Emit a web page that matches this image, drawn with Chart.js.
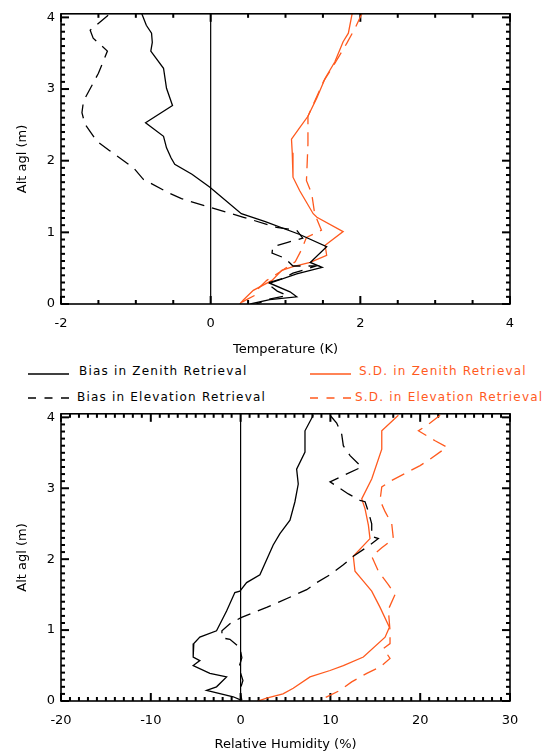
<!DOCTYPE html>
<html lang="en">
<head>
  <meta charset="UTF-8">
  <title>Bias and S.D. profiles</title>
  <style>
    body { margin: 0; background: #fff; }
    #page { position: relative; width: 551px; height: 755px; font-family: 'DejaVu Sans', sans-serif; }
    canvas { position: absolute; left: 0; }
    #tempChart { top: 0; }
    #rhChart { top: 400px; }
    .key { position: absolute; font-size: 12px; letter-spacing: 1.2px; line-height: 14px; white-space: nowrap; color: #000; }
    .key.sd { color: #ff5a1e; }
    .swatch { position: absolute; }
  </style>
</head>
<body>
<div id="page">
  <canvas id="tempChart" width="551" height="360"></canvas>

  <svg class="swatch" style="left:28px;top:372px" width="41" height="4"><line x1="0" y1="2" x2="41" y2="2" stroke="#000" stroke-width="1.5"/></svg>
  <div class="key" style="left:79px;top:364px">Bias in Zenith Retrieval</div>
  <svg class="swatch" style="left:310px;top:372px" width="41" height="4"><line x1="0" y1="2" x2="41" y2="2" stroke="#ff5a1e" stroke-width="1.5"/></svg>
  <div class="key sd" style="left:359px;top:364px">S.D. in Zenith Retrieval</div>
  <svg class="swatch" style="left:28px;top:396px" width="41" height="4"><line x1="0" y1="2" x2="41" y2="2" stroke="#000" stroke-width="1.5" stroke-dasharray="8 8.5"/></svg>
  <div class="key" style="left:77px;top:390px">Bias in Elevation Retrieval</div>
  <svg class="swatch" style="left:310px;top:396px" width="41" height="4"><line x1="0" y1="2" x2="41" y2="2" stroke="#ff5a1e" stroke-width="1.5" stroke-dasharray="8 8.5"/></svg>
  <div class="key sd" style="left:355px;top:390px">S.D. in Elevation Retrieval</div>

  <canvas id="rhChart" width="551" height="355"></canvas>
</div>
<script src="https://cdn.jsdelivr.net/npm/chart.js"></script>
<script>
// Temperature profiles (K) against altitude
const altTBiasZen = [4.05, 3.89, 3.78, 3.65, 3.53, 3.29, 3.01, 2.77, 2.53, 2.34, 2.18, 2.04, 1.95, 1.81, 1.63, 1.26, 1.15, 0.97, 0.80, 0.58, 0.51, 0.42, 0.29, 0.17, 0.10, 0.06, 0.00];
const tBiasZen    = [-0.92, -0.86, -0.79, -0.78, -0.80, -0.63, -0.59, -0.51, -0.87, -0.63, -0.59, -0.53, -0.48, -0.25, -0.01, 0.41, 0.73, 1.19, 1.55, 1.33, 1.49, 1.15, 0.79, 1.06, 1.15, 0.79, 0.53];

const altTBiasElv = [4.03, 3.82, 3.71, 3.53, 3.22, 2.83, 2.67, 2.51, 2.27, 2.14, 1.90, 1.74, 1.54, 1.47, 1.35, 1.21, 1.07, 1.03, 0.92, 0.86, 0.80, 0.71, 0.64, 0.53, 0.53, 0.43, 0.36, 0.29, 0.18, 0.12, 0.06, 0.00];
const tBiasElv    = [-1.37, -1.61, -1.57, -1.38, -1.50, -1.70, -1.72, -1.68, -1.52, -1.35, -1.03, -0.90, -0.54, -0.39, -0.01, 0.44, 0.88, 1.15, 1.23, 1.03, 0.83, 0.82, 0.99, 1.10, 1.41, 1.10, 0.97, 0.75, 0.89, 1.02, 0.75, 0.61];

const altTSdZen = [4.05, 3.78, 3.66, 3.38, 3.15, 2.88, 2.62, 2.46, 2.30, 2.11, 1.77, 1.58, 1.26, 1.21, 1.01, 0.82, 0.68, 0.58, 0.52, 0.47, 0.33, 0.19, 0.06, 0.00];
const tSdZen    = [1.89, 1.84, 1.77, 1.66, 1.53, 1.42, 1.30, 1.19, 1.08, 1.09, 1.10, 1.19, 1.37, 1.42, 1.77, 1.53, 1.55, 1.33, 1.10, 0.95, 0.82, 0.57, 0.44, 0.39];

const altTSdElv = [4.05, 3.85, 3.64, 3.29, 3.11, 2.83, 2.62, 2.23, 1.72, 1.54, 1.26, 1.03, 0.93, 0.77, 0.59, 0.45, 0.33, 0.19, 0.12, 0.06, 0.01];
const tSdElv    = [2.02, 1.93, 1.82, 1.62, 1.51, 1.39, 1.30, 1.30, 1.28, 1.35, 1.39, 1.48, 1.28, 1.22, 1.13, 0.93, 0.75, 0.61, 0.59, 0.48, 0.39];

// Relative humidity profiles (%) against altitude
const altRBiasZen = [4.03, 3.81, 3.51, 3.27, 3.06, 2.81, 2.55, 2.36, 2.20, 1.78, 1.67, 1.55, 1.53, 1.27, 0.99, 0.90, 0.81, 0.62, 0.57, 0.50, 0.39, 0.34, 0.20, 0.15, 0.06, 0.01];
const rBiasZen    = [8.09, 7.17, 7.17, 6.24, 6.42, 6.05, 5.50, 4.38, 3.63, 2.15, 0.67, -0.08, -0.64, -1.56, -2.68, -4.54, -5.21, -5.28, -4.54, -5.28, -3.42, -1.56, -2.68, -3.79, -0.82, 0.11];

const altRBiasElv = [4.03, 3.92, 3.76, 3.60, 3.46, 3.30, 3.19, 3.09, 2.92, 2.83, 2.81, 2.67, 2.50, 2.32, 2.29, 2.20, 2.04, 1.92, 1.78, 1.67, 1.57, 1.39, 1.32, 1.18, 1.09, 0.99, 0.89, 0.87, 0.75, 0.61, 0.47, 0.29, 0.15, 0.01];
const rBiasElv    = [9.96, 10.70, 11.26, 11.44, 12.19, 13.49, 11.63, 9.96, 12.00, 13.30, 13.86, 14.23, 14.60, 14.60, 15.34, 14.41, 12.55, 11.44, 9.96, 8.47, 7.36, 4.19, 2.90, 0.11, -1.19, -2.08, -2.08, -1.19, -0.08, 0.14, -0.19, 0.26, -0.08, 0.14];

const altRSdZen = [4.03, 3.81, 3.55, 3.13, 2.85, 2.71, 2.48, 2.29, 2.04, 1.83, 1.69, 1.55, 1.32, 1.04, 0.90, 0.62, 0.50, 0.43, 0.34, 0.18, 0.10, 0.04, 0.00];
const rSdZen    = [17.57, 15.72, 15.72, 14.60, 13.49, 13.86, 14.23, 14.41, 12.55, 12.74, 13.67, 14.60, 15.53, 16.57, 16.09, 13.67, 11.44, 9.96, 7.73, 5.86, 4.72, 2.90, 1.93];

const altRSdElv = [4.03, 3.92, 3.81, 3.67, 3.58, 3.41, 3.32, 3.11, 3.02, 2.83, 2.67, 2.50, 2.29, 2.16, 2.04, 1.83, 1.64, 1.50, 1.29, 0.99, 0.81, 0.74, 0.60, 0.48, 0.39, 0.27, 0.15, 0.01];
const rSdElv    = [22.22, 21.10, 19.80, 21.66, 22.97, 21.10, 19.99, 16.83, 15.72, 15.53, 16.09, 16.83, 17.01, 15.72, 14.60, 15.34, 16.45, 17.20, 16.45, 16.64, 16.64, 15.90, 16.64, 15.53, 14.05, 12.37, 11.07, 8.84];

const tempTicks = [-2, 0, 2, 4];
const rhTicks = [-20, -10, 0, 10, 20, 30];
const altTicks = [0, 1, 2, 3, 4];

const BLACK = '#000000';
const ORANGE = '#ff5a1e';
const DASH = [14, 8];

Chart.defaults.font.family = "'DejaVu Sans', sans-serif";
Chart.defaults.color = '#000';

function profile(xs, alts) {
  return xs.map((v, i) => ({ x: v, y: alts[i] }));
}

function line(label, xs, alts, color, dashed) {
  return {
    label,
    data: profile(xs, alts),
    showLine: true,
    borderColor: color,
    borderWidth: 1.3,
    borderDash: dashed ? DASH : [],
    pointRadius: 0,
    tension: 0
  };
}

// zero line, inward ticks on all four sides, then the box around the plot
function axisFrame(xMinor, xMajor) {
  return {
    id: 'axisFrame',
    beforeDatasetsDraw(chart) {
      const ctx = chart.ctx;
      const a = chart.chartArea;
      const sx = chart.scales.x;
      const sy = chart.scales.y;
      ctx.save();
      ctx.fillStyle = '#000';
      const z = sx.getPixelForValue(0);
      ctx.fillRect(z - 0.6, a.top, 1.2, a.bottom - a.top);
      const nx = Math.round((sx.max - sx.min) / xMinor);
      for (let i = 0; i <= nx; i++) {
        const v = sx.min + i * xMinor;
        const len = (Math.abs(v / xMajor - Math.round(v / xMajor)) < 1e-6) ? 8 : 4;
        const p = sx.getPixelForValue(v);
        ctx.fillRect(p - 1, a.bottom - len, 2, len);
        ctx.fillRect(p - 1, a.top, 2, len);
      }
      // altitude ticks every 0.1, long ones on whole units
      const ny = Math.floor(sy.max * 10 + 1e-6);
      for (let i = 0; i <= ny; i++) {
        const len = (i % 10 === 0) ? 8 : 4;
        const p = sy.getPixelForValue(i / 10);
        ctx.fillRect(a.left, p - 1, len, 2);
        ctx.fillRect(a.right - len, p - 1, len, 2);
      }
      ctx.restore();
    },
    afterDraw(chart) {
      const ctx = chart.ctx;
      const a = chart.chartArea;
      ctx.save();
      ctx.strokeStyle = '#000';
      ctx.lineWidth = 1.6;
      ctx.strokeRect(a.left, a.top, a.right - a.left, a.bottom - a.top);
      ctx.restore();
    }
  };
}

function profileOptions(xTitle, xTicks, xStep, padTop, xHeight) {
  return {
    responsive: false,
    animation: false,
    layout: { padding: { top: padTop, right: 41, left: 0, bottom: 0 } },
    plugins: { legend: { display: false }, tooltip: { enabled: false } },
    scales: {
      x: {
        type: 'linear',
        min: xTicks[0],
        max: xTicks[xTicks.length - 1],
        grid: { display: false, drawTicks: false },
        border: { display: false },
        ticks: { stepSize: xStep, padding: 12, maxRotation: 0, font: { size: 13 } },
        title: { display: true, text: xTitle, font: { size: 13 }, padding: { top: 0, bottom: 3 } },
        afterFit(s) { s.height = xHeight; }
      },
      y: {
        type: 'linear',
        min: altTicks[0],
        max: 4.05,
        grid: { display: false, drawTicks: false },
        border: { display: false },
        ticks: { stepSize: 1, includeBounds: false, padding: 6, font: { size: 13 } },
        title: { display: true, text: 'Alt agl (m)', font: { size: 13 }, padding: { top: 15, bottom: 0 } },
        afterFit(s) { s.width = 61; }
      }
    }
  };
}

new Chart(document.getElementById('tempChart').getContext('2d'), {
  type: 'scatter',
  data: {
    datasets: [
      line('Bias in Zenith Retrieval', tBiasZen, altTBiasZen, BLACK, false),
      line('Bias in Elevation Retrieval', tBiasElv, altTBiasElv, BLACK, true),
      line('S.D. in Zenith Retrieval', tSdZen, altTSdZen, ORANGE, false),
      line('S.D. in Elevation Retrieval', tSdElv, altTSdElv, ORANGE, true)
    ]
  },
  options: profileOptions('Temperature (K)', tempTicks, 2, 12, 56),
  plugins: [axisFrame(0.5, 2)]
});

new Chart(document.getElementById('rhChart').getContext('2d'), {
  type: 'scatter',
  data: {
    datasets: [
      line('Bias in Zenith Retrieval', rBiasZen, altRBiasZen, BLACK, false),
      line('Bias in Elevation Retrieval', rBiasElv, altRBiasElv, BLACK, true),
      line('S.D. in Zenith Retrieval', rSdZen, altRSdZen, ORANGE, false),
      line('S.D. in Elevation Retrieval', rSdElv, altRSdElv, ORANGE, true)
    ]
  },
  options: profileOptions('Relative Humidity (%)', rhTicks, 10, 11, 54),
  plugins: [axisFrame(1, 10)]
});
</script>
</body>
</html>
